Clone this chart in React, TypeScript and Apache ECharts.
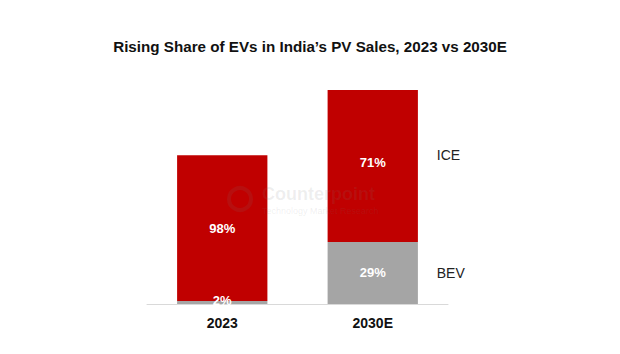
import React, { useEffect, useRef } from "react";
import * as echarts from "echarts";

const categories = ["2023", "2030E"];
const totals = [4.1, 5.9];
const bevShare = [2, 29];
const iceShare = [98, 71];
const seriesNames = ["BEV", "ICE"];

export default function App() {
  const ref = useRef<HTMLDivElement>(null);
  useEffect(() => {
    if (!ref.current) return;
    const chart = echarts.init(ref.current, null, { renderer: "svg" });
    const bevVals = totals.map((t, i) => (t * bevShare[i]) / 100);
    const iceVals = totals.map((t, i) => (t * iceShare[i]) / 100);
    const font = "Liberation Sans, Arial, sans-serif";
    chart.setOption({
      animation: false,
      backgroundColor: "#ffffff",
      title: {
        text: "Rising Share of EVs in India\u2019s PV Sales, 2023 vs 2030E",
        left: "center",
        top: 34,
        textStyle: { fontFamily: font, fontSize: 15.2, fontWeight: "bold", color: "#111" },
      },
      grid: { left: 147, right: 172, top: 90, bottom: 50 },
      xAxis: {
        type: "category",
        data: categories,
        axisLine: { lineStyle: { color: "#d9d9d9", width: 1 } },
        axisTick: { show: false },
        axisLabel: { fontFamily: font, fontSize: 14, fontWeight: "bold", color: "#111", margin: 12 },
      },
      yAxis: { type: "value", min: 0, max: 5.9, show: false },
      series: [
        {
          name: seriesNames[0],
          type: "bar",
          stack: "s",
          barWidth: "60%",
          itemStyle: { color: "#a5a5a5" },
          data: bevVals.map((v, i) => ({
            value: v,
            label: {
              show: true,
              position: "inside",
              offset: i === 0 ? [0, -2] : [0, 0],
              formatter: bevShare[i] + "%",
              color: "#fff",
              fontFamily: font,
              fontSize: 13,
              fontWeight: "bold",
            },
          })),
        },
        {
          name: seriesNames[1],
          type: "bar",
          stack: "s",
          barWidth: "60%",
          itemStyle: { color: "#c00000" },
          data: iceVals.map((v, i) => ({
            value: v,
            label: {
              show: true,
              position: "inside",
              offset: i === 1 ? [0, -3] : [0, 0],
              formatter: iceShare[i] + "%",
              color: "#fff",
              fontFamily: font,
              fontSize: 13,
              fontWeight: "bold",
            },
          })),
        },
      ],
    });
    const last = categories.length - 1;
    const pBar = chart.convertToPixel({ gridIndex: 0 }, [last, 0]) as number[];
    const pBev = chart.convertToPixel({ gridIndex: 0 }, [last, bevVals[last] / 2]) as number[];
    const pIce = chart.convertToPixel({ gridIndex: 0 }, [last, bevVals[last] + iceVals[last] * 0.57]) as number[];
    const x = pBar[0] + 64;
    chart.setOption({
      graphic: [
        {
          type: "text",
          x,
          y: pIce[1],
          style: { text: seriesNames[1], fontFamily: font, fontSize: 14, fill: "#222", verticalAlign: "middle" },
        },
        {
          type: "text",
          x,
          y: pBev[1],
          style: { text: seriesNames[0], fontFamily: font, fontSize: 14, fill: "#222", verticalAlign: "middle" },
        },
        {
          type: "text",
          x: 262,
          y: 194,
          z: 100,
          style: { text: "Counterpoint", fontFamily: font, fontSize: 18, fontWeight: "bold", fill: "rgba(120,120,120,0.12)", verticalAlign: "middle" },
        },
        {
          type: "text",
          x: 262,
          y: 211,
          z: 100,
          style: { text: "Technology Market Research", fontFamily: font, fontSize: 9, fill: "rgba(120,120,120,0.12)", verticalAlign: "middle" },
        },
        {
          type: "circle",
          z: 100,
          shape: { cx: 240, cy: 199, r: 11 },
          style: { fill: "none", stroke: "rgba(120,120,120,0.12)", lineWidth: 4 },
        },
      ],
    });
    return () => chart.dispose();
  }, []);
  return <div ref={ref} style={{ width: 620, height: 354, margin: -8 }} />;
}
